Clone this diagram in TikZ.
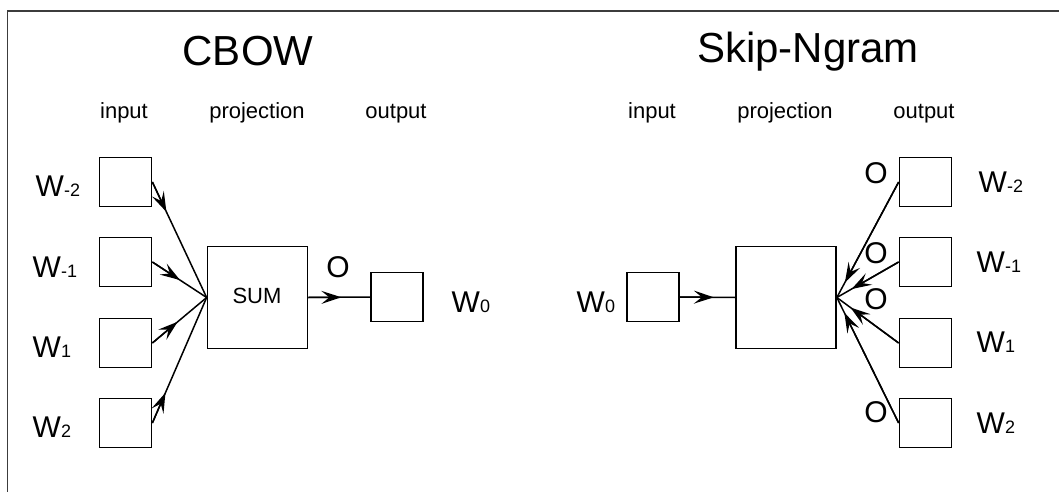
\documentclass[tikz,border=0pt]{standalone}
\usepackage{fontspec}
\setmainfont{Liberation Sans}
\usetikzlibrary{arrows.meta,calc}
\definecolor{framegray}{HTML}{3C3C3C}
\newcommand\wword[1]{W{\fontsize{18}{20}\selectfont #1}}
\tikzset{
  wbox/.style={draw, line width=1.7pt, minimum width=52pt, minimum height=49pt, inner sep=0pt},
  bigbox/.style={draw, line width=1.7pt, minimum width=100pt, minimum height=102pt, inner sep=0pt},
  link/.style={line width=1.5pt},
  headed/.style={line width=1.5pt, -{Stealth[length=20pt,width=13pt,inset=8pt]}},
  bigtitle/.style={font=\fontsize{42}{48}\selectfont, anchor=base, inner sep=0pt},
  heading/.style={font=\fontsize{22}{26}\selectfont, anchor=base, inner sep=0pt},
  wlabel/.style={font=\fontsize{30}{34}\selectfont, anchor=base west, inner sep=0pt},
  olabel/.style={font=\fontsize{30}{34}\selectfont, anchor=base, inner sep=0pt},
  sumlabel/.style={font=\fontsize{22}{26}\selectfont, anchor=base, inner sep=0pt},
}
\begin{document}
\begin{tikzpicture}[x=1pt, y=-1pt]
\useasboundingbox (0,0) rectangle (1059,492);
% frame edges
\coordinate (fcorner) at (7.5,11);
\coordinate (fright) at (1059,11);
\coordinate (fbottom) at (7.5,492);
\draw[framegray, line width=1.5pt] (fbottom) -- (fcorner) -- (fright);

% ---------- CBOW ----------
\node[bigtitle] (cbowtitle) at (248,66) {CBOW};
\node[heading] (cin) at (124,118) {input};
\node[heading] (cproj) at (257,118) {projection};
\node[heading] (cout) at (396,118) {output};

\node[wbox] (cin1) at (125.5,182) {};
\node[wbox] (cin2) at (125.5,262) {};
\node[wbox] (cin3) at (125.5,343) {};
\node[wbox] (cin4) at (125.5,423) {};
\node[bigbox] (sum) at (257.5,297.5) {};
\node[sumlabel] (sumtext) at (257,303) {SUM};
\node[wbox] (cw0) at (397,297) {};

\node[wlabel] (lcm2) at (35.5,196) {\wword{-2}};
\node[wlabel] (lcm1) at (32.5,277) {\wword{-1}};
\node[wlabel] (lcp1) at (32.5,357) {\wword{1}};
\node[wlabel] (lcp2) at (32.5,437) {\wword{2}};
\node[wlabel] (lc0) at (451.5,312) {\wword{0}};
\node[olabel] (co) at (338,277) {O};

% context words feed the sum; arrowhead about 32pt along each link
\foreach \src/\dst in {cin1/sum.west, cin2/sum.west, cin3/sum.west, cin4/sum.west, sum/cw0.west} {
  \draw[link] (\src.east) -- (\dst);
  \draw[headed] (\src.east) -- ($(\src.east)!33pt!(\dst)$);
}

% ---------- Skip-Ngram ----------
\node[bigtitle] (skiptitle) at (808,63) {Skip-Ngram};
\node[heading] (sin) at (652,118) {input};
\node[heading] (sproj) at (785,118) {projection};
\node[heading] (sout) at (924,118) {output};

\node[wbox] (sw0) at (653,297) {};
\node[bigbox] (proj) at (786,297.5) {};
\node[wbox] (sout1) at (925.5,182) {};
\node[wbox] (sout2) at (925.5,262) {};
\node[wbox] (sout3) at (925.5,343) {};
\node[wbox] (sout4) at (925.5,423) {};

\node[wlabel] (lsm2) at (978.5,192) {\wword{-2}};
\node[wlabel] (lsm1) at (976.5,272) {\wword{-1}};
\node[wlabel] (lsp1) at (976.5,352) {\wword{1}};
\node[wlabel] (lsp2) at (976.5,433) {\wword{2}};
\node[wlabel] (ls0) at (576.5,312) {\wword{0}};

\node[olabel] (so1) at (876,183) {O};
\node[olabel] (so2) at (876,263) {O};
\node[olabel] (so3) at (876,309) {O};
\node[olabel] (so4) at (876,422) {O};

\draw[link] (sw0.east) -- (proj.west);
\draw[headed] (sw0.east) -- ($(sw0.east)!34pt!(proj.west)$);
% outputs point back into the projection; tips sit short of its edge
\foreach \src in {sout1, sout2, sout3, sout4} {
  \draw[link] (\src.west) -- (proj.east);
  \draw[headed] (\src.west) -- ($(proj.east)!17pt!(\src.west)$);
}
\end{tikzpicture}
\end{document}
